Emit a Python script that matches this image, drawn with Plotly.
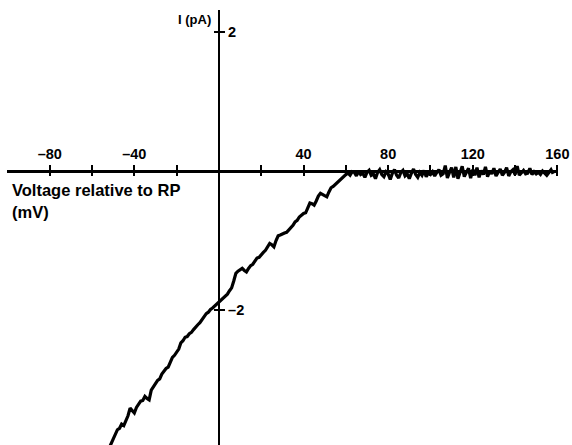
import plotly.graph_objects as go

# Membrane voltage relative to resting potential (mV)
voltage_mv = [
    -52, -51, -50, -49, -48, -47, -46, -45, -44, -43, -42, -41, -40, -39, -38, -37,
    -36, -35, -34, -33, -32, -31, -30, -29, -28, -27, -26, -25, -24, -23, -22, -21,
    -20, -19, -18, -17, -16, -15, -14, -13, -12, -11, -10, -9, -8, -7, -6, -5,
    -4, -3, -2, -1, 0, 1, 2, 3, 4, 5, 6, 7, 8, 9, 10, 11,
    12, 13, 14, 15, 16, 17, 18, 19, 20, 21, 22, 23, 24, 25, 26, 27,
    28, 29, 30, 31, 32, 33, 34, 35, 36, 37, 38, 39, 40, 41, 42, 43,
    44, 45, 46, 47, 48, 49, 50, 51, 52, 53, 54, 55, 56, 57, 58, 59,
    60, 61, 62, 63, 64, 65, 66, 67, 68, 69, 70, 71, 72, 73, 74, 75,
    76, 77, 78, 79, 80, 81, 82, 83, 84, 85, 86, 87, 88, 89, 90, 91,
    92, 93, 94, 95, 96, 97, 98, 99, 100, 101, 102, 103, 104, 105, 106, 107,
    108, 109, 110, 111, 112, 113, 114, 115, 116, 117, 118, 119, 120, 121, 122, 123,
    124, 125, 126, 127, 128, 129, 130, 131, 132, 133, 134, 135, 136, 137, 138, 139,
    140, 141, 142, 143, 144, 145, 146, 147, 148, 149, 150, 151, 152, 153, 154, 155,
    156, 157, 158,
]

# Single-channel current (pA)
current_pa = [
    -3.99, -3.92, -3.86, -3.80, -3.72, -3.70, -3.64, -3.66, -3.59, -3.52, -3.41, -3.45, -3.48, -3.40, -3.35, -3.31,
    -3.30, -3.24, -3.27, -3.29, -3.15, -3.10, -3.05, -3.01, -2.99, -2.92, -2.88, -2.84, -2.82, -2.74, -2.68, -2.65,
    -2.61, -2.56, -2.47, -2.44, -2.39, -2.38, -2.34, -2.32, -2.28, -2.24, -2.21, -2.18, -2.14, -2.10, -2.05, -2.03,
    -1.99, -1.97, -1.94, -1.91, -1.88, -1.86, -1.82, -1.79, -1.77, -1.72, -1.68, -1.58, -1.47, -1.44, -1.42, -1.40,
    -1.43, -1.45, -1.40, -1.36, -1.34, -1.29, -1.25, -1.24, -1.20, -1.17, -1.14, -1.08, -1.04, -1.06, -1.09, -1.00,
    -0.93, -0.92, -0.90, -0.89, -0.88, -0.85, -0.82, -0.78, -0.73, -0.71, -0.66, -0.63, -0.61, -0.60, -0.52, -0.46,
    -0.47, -0.49, -0.43, -0.36, -0.32, -0.34, -0.36, -0.37, -0.30, -0.24, -0.22, -0.19, -0.17, -0.14, -0.11, -0.08,
    -0.05, -0.03, -0.06, -0.01, -0.02, -0.07, 0.00, -0.05, -0.03, -0.09, -0.02, 0.01, -0.06, -0.04, -0.11, -0.02,
    0.02, -0.05, -0.08, -0.01, -0.04, -0.12, -0.03, 0.02, -0.06, -0.10, -0.02, 0.01, -0.07, -0.04, -0.11, -0.03,
    0.03, -0.05, -0.09, -0.02, -0.06, 0.01, -0.08, -0.03, -0.05, -0.01, -0.07, -0.02, 0.02, -0.06, -0.04, 0.08,
    -0.10, -0.02, 0.05, -0.09, 0.06, -0.11, -0.01, 0.07, -0.08, -0.03, 0.04, -0.10, 0.02, -0.06, 0.05, -0.09,
    0.01, -0.05, 0.06, -0.08, 0.00, -0.04, 0.04, -0.07, -0.01, 0.03, -0.06, -0.02, 0.05, -0.07, -0.01, 0.02,
    -0.05, 0.07, -0.06, -0.02, 0.01, -0.04, -0.03, 0.04, -0.05, -0.01, -0.04, -0.02, -0.05, 0.00, -0.03, -0.06,
    -0.02, 0.02, -0.04,
]

x_tick_values = [-80, -60, -40, -20, 20, 40, 60, 80, 100, 120, 140, 160]
x_tick_labels = ["\u201380", "", "\u201340", "", "", "40", "", "80", "", "120", "", "160"]
y_tick_values = [-2, 2]
y_tick_labels = ["\u20132", "2"]

W, H = 572, 445
FONT = "Liberation Sans"
INK = "black"

x_range = [-100.2, 160.3]
x_domain = [7 / W, 558 / W]
y_range = [-3.94, 2.317]
y_domain = [0, 1 - 10 / H]
x_axis_y = 1 - 171 / H      # paper position of I = 0
y_axis_x = 219 / W          # paper position of V = 0

fig = go.Figure()
fig.add_trace(go.Scatter(
    x=voltage_mv, y=current_pa, mode="lines",
    line=dict(color=INK, width=3.2, shape="linear"),
    hoverinfo="skip", cliponaxis=True,
))
# empty trace on the secondary axes so their tick marks are drawn
fig.add_trace(go.Scatter(x=[None], y=[None], xaxis="x2", yaxis="y2", mode="lines", hoverinfo="skip"))

tick_font = dict(family=FONT, size=14.5, color=INK, weight="bold")
label_font = dict(family=FONT, size=16.5, color=INK, weight="bold")

fig.update_layout(
    width=W, height=H,
    margin=dict(l=0, r=0, t=0, b=0, autoexpand=False),
    paper_bgcolor="white", plot_bgcolor="white",
    showlegend=False,
    xaxis=dict(
        domain=x_domain, range=x_range, anchor="free", position=x_axis_y, side="top",
        showline=True, linecolor=INK, linewidth=2.6, automargin=False,
        ticks="outside", ticklen=5, tickwidth=2, tickcolor=INK,
        tickvals=x_tick_values, ticktext=x_tick_labels, tickfont=tick_font,
        showgrid=False, zeroline=False, fixedrange=True,
    ),
    xaxis2=dict(
        domain=x_domain, range=x_range, overlaying="x", anchor="free", position=x_axis_y, side="bottom",
        showline=False, automargin=False, ticks="outside", ticklen=4, tickwidth=2, tickcolor=INK,
        tickvals=x_tick_values, showticklabels=False,
        showgrid=False, zeroline=False, fixedrange=True,
    ),
    yaxis=dict(
        domain=y_domain, range=y_range, anchor="free", position=y_axis_x, side="right",
        showline=True, linecolor=INK, linewidth=2.4, automargin=False,
        ticks="outside", ticklen=5, tickwidth=2, tickcolor=INK,
        tickvals=y_tick_values, ticktext=y_tick_labels, tickfont=tick_font,
        showgrid=False, zeroline=False, fixedrange=True,
    ),
    yaxis2=dict(
        domain=y_domain, range=y_range, overlaying="y", anchor="free", position=y_axis_x, side="left",
        showline=False, automargin=False, ticks="outside", ticklen=5, tickwidth=2, tickcolor=INK,
        tickvals=y_tick_values, showticklabels=False,
        showgrid=False, zeroline=False, fixedrange=True,
    ),
    annotations=[
        dict(text="I (pA)", x=195 / W, y=1 - 19 / H, xref="paper", yref="paper",
             xanchor="center", yanchor="middle", showarrow=False,
             font=dict(family=FONT, size=13, color=INK, weight="bold")),
        dict(text="Voltage relative to RP", x=10 / W, y=1 - 190 / H, xref="paper", yref="paper",
             xanchor="left", yanchor="middle", showarrow=False, font=label_font),
        dict(text="(mV)", x=10 / W, y=1 - 212 / H, xref="paper", yref="paper",
             xanchor="left", yanchor="middle", showarrow=False, font=label_font),
    ],
)

fig.write_html("out.html")
